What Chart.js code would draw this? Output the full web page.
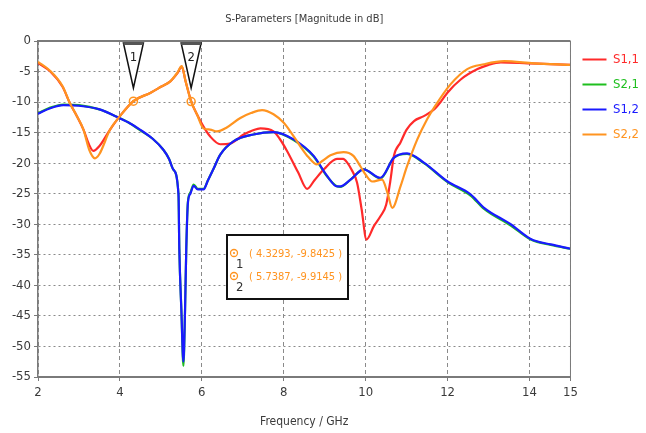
<!DOCTYPE html>
<html>
<head>
<meta charset="utf-8">
<script src="https://cdn.jsdelivr.net/npm/chart.js@4.4.0/dist/chart.umd.min.js"></script>
<style>
  html, body { margin: 0; padding: 0; background: #fff; }
  #wrap { width: 646px; height: 433px; }
</style>
</head>
<body>
<div id="wrap"><canvas id="chartSParams"></canvas></div>
<script>
// S-parameter curves (frequency in GHz, magnitude in dB)
const s11Freq = [2.0, 2.3, 2.6, 2.78, 2.95, 3.11, 3.25, 3.35, 3.5, 3.76, 4.0, 4.33, 4.74, 5.0, 5.23, 5.4, 5.51, 5.6, 5.74, 5.88, 6.03, 6.2, 6.45, 6.69, 7.02, 7.25, 7.43, 7.75, 7.9, 8.08, 8.35, 8.57, 8.75, 8.98, 9.3, 9.45, 9.55, 9.65, 9.79, 9.9, 10.02, 10.2, 10.36, 10.5, 10.6, 10.69, 10.85, 11.0, 11.18, 11.42, 11.67, 11.85, 11.99, 12.32, 12.73, 13.0, 13.3, 13.95, 14.5, 15.0];
const s11Mag  = [-3.6, -5.0, -7.5, -10.2, -12.3, -14.5, -17.0, -18.0, -17.2, -14.5, -12.3, -9.84, -8.5, -7.5, -6.6, -5.3, -4.2, -6.5, -9.9, -12.0, -13.9, -15.6, -16.9, -16.8, -15.3, -14.6, -14.3, -14.8, -16.0, -18.0, -21.5, -24.2, -22.8, -21.0, -19.3, -19.3, -19.9, -21.0, -23.2, -27.5, -32.5, -30.3, -28.7, -26.8, -23.0, -18.8, -16.6, -14.5, -13.1, -12.3, -11.2, -9.8, -8.5, -6.3, -4.6, -3.9, -3.5, -3.65, -3.8, -3.9];

const s21Freq = [2.0, 2.3, 2.62, 3.0, 3.5, 3.92, 4.2, 4.49, 4.8, 5.06, 5.2, 5.3, 5.43, 5.45, 5.5, 5.55, 5.59, 5.62, 5.66, 5.72, 5.8, 5.9, 6.04, 6.15, 6.28, 6.45, 6.78, 7.26, 7.75, 8.24, 8.73, 9.06, 9.3, 9.38, 9.63, 9.95, 10.36, 10.69, 11.01, 11.42, 12.0, 12.56, 12.89, 13.54, 14.03, 14.52, 15.0];
const s21Mag  = [-11.8, -10.9, -10.4, -10.5, -11.2, -12.4, -13.3, -14.6, -16.0, -17.8, -19.3, -21.0, -25.1, -34.0, -44.0, -53.2, -44.0, -34.0, -26.3, -24.8, -23.5, -24.2, -24.2, -22.8, -21.0, -18.6, -16.4, -15.3, -14.9, -16.2, -18.9, -22.2, -23.8, -23.9, -22.7, -21.0, -22.5, -19.1, -18.5, -20.0, -23.1, -25.3, -27.5, -30.2, -32.5, -33.4, -34.0];

const s12Freq = [2.0, 2.3, 2.62, 3.0, 3.5, 3.92, 4.2, 4.49, 4.8, 5.06, 5.2, 5.3, 5.43, 5.45, 5.5, 5.55, 5.59, 5.62, 5.66, 5.72, 5.8, 5.9, 6.04, 6.15, 6.28, 6.45, 6.78, 7.26, 7.75, 8.24, 8.73, 9.06, 9.3, 9.38, 9.63, 9.95, 10.36, 10.69, 11.01, 11.42, 12.0, 12.56, 12.89, 13.54, 14.03, 14.52, 15.0];
const s12Mag  = [-11.9, -11.0, -10.5, -10.6, -11.2, -12.4, -13.3, -14.5, -16.0, -17.8, -19.3, -21.0, -25.1, -34.0, -44.0, -52.5, -44.0, -34.0, -26.5, -25.0, -23.7, -24.3, -24.3, -22.8, -21.0, -18.6, -16.4, -15.3, -14.9, -16.1, -18.8, -22.1, -23.8, -23.8, -22.7, -21.0, -22.4, -19.1, -18.4, -19.9, -23.0, -25.1, -27.3, -30.0, -32.4, -33.3, -34.0];

const s22Freq = [2.0, 2.3, 2.6, 2.78, 2.95, 3.11, 3.25, 3.39, 3.5, 3.76, 4.0, 4.33, 4.74, 5.0, 5.23, 5.4, 5.51, 5.6, 5.74, 5.88, 6.04, 6.2, 6.37, 6.6, 6.94, 7.2, 7.47, 7.75, 8.0, 8.2, 8.4, 8.6, 8.81, 8.95, 9.14, 9.46, 9.7, 9.87, 10.0, 10.16, 10.4, 10.53, 10.65, 10.85, 11.01, 11.26, 11.5, 11.67, 12.07, 12.48, 12.89, 13.38, 14.11, 15.0];
const s22Mag  = [-3.4, -4.9, -7.4, -10.2, -12.3, -14.5, -17.8, -19.2, -18.5, -14.5, -12.3, -9.84, -8.5, -7.5, -6.6, -5.2, -4.1, -6.5, -9.91, -12.0, -14.3, -14.5, -14.8, -14.2, -12.6, -11.8, -11.3, -12.0, -13.4, -15.2, -17.2, -19.0, -20.2, -19.6, -18.7, -18.2, -18.8, -20.5, -21.9, -23.0, -22.7, -24.8, -27.3, -23.8, -20.5, -16.1, -12.8, -10.9, -7.1, -4.6, -3.8, -3.3, -3.65, -3.9];

const seriesLabels = ['S1,1', 'S2,1', 'S1,2', 'S2,2'];

// Markers on S2,2
const markerIds  = ['1', '2'];
const markerFreq = [4.3293, 5.7387];
const markerMag  = [-9.8425, -9.9145];

const xTicks = [2, 4, 6, 8, 10, 12, 14, 15];
const yTicks = [0, -5, -10, -15, -20, -25, -30, -35, -40, -45, -50, -55];

const COLORS = {
    red: '#ff2a2a',
    green: '#1fbf1f',
    blue: '#1a1aff',
    orange: '#ff9420',
    axis: '#7a7a7a',
    grid: '#8a8a8a',
    text: '#3a3a3a',
};

const FONT = "'Liberation Sans Narrow', 'DejaVu Sans Condensed', 'Liberation Sans', sans-serif";

Chart.defaults.font.family = FONT;
Chart.defaults.font.size = 12;
Chart.defaults.color = COLORS.text;

const toPoints = (fx, my) => fx.map((f, i) => ({ x: f, y: my[i] }));

function lineSet(label, fx, my, color, order) {
    return {
        label,
        data: toPoints(fx, my),
        borderColor: color,
        backgroundColor: color,
        borderWidth: 2.2,
        pointRadius: 0,
        cubicInterpolationMode: 'monotone',
        order,
    };
}

// Title, plot frame, marker flags and marker read-out box
const decorations = {
    id: 'decorations',
    afterDatasetsDraw(chart) {
        const { ctx, chartArea: a, scales } = chart;
        const xs = scales.x, ys = scales.y;
        ctx.save();

        // frame
        ctx.strokeStyle = COLORS.axis;
        ctx.lineWidth = 2;
        ctx.beginPath();
        ctx.moveTo(a.left, a.top); ctx.lineTo(a.right, a.top);
        ctx.stroke();
        ctx.lineWidth = 1;
        ctx.beginPath();
        ctx.moveTo(a.right, a.top); ctx.lineTo(a.right, a.bottom);
        ctx.stroke();

        // marker circles + flags
        markerFreq.forEach((f, i) => {
            const px = xs.getPixelForValue(f);
            const py = ys.getPixelForValue(markerMag[i]);
            ctx.strokeStyle = COLORS.orange;
            ctx.fillStyle = COLORS.orange;
            ctx.lineWidth = 1.5;
            ctx.beginPath(); ctx.arc(px, py, 4, 0, Math.PI * 2); ctx.stroke();
            ctx.beginPath(); ctx.arc(px, py, 1.3, 0, Math.PI * 2); ctx.fill();

            const top = a.top + 2;
            ctx.fillStyle = '#fff';
            ctx.strokeStyle = '#111';
            ctx.lineWidth = 1.5;
            ctx.beginPath();
            ctx.moveTo(px - 10, top);
            ctx.lineTo(px + 10, top);
            ctx.lineTo(px, top + 45);
            ctx.closePath();
            ctx.fill(); ctx.stroke();
            ctx.fillStyle = '#555';
            ctx.fillRect(px - 10, top - 1, 20, 3);
            ctx.fillStyle = '#222';
            ctx.font = `13px ${FONT}`;
            ctx.textAlign = 'center';
            ctx.textBaseline = 'middle';
            ctx.fillText(markerIds[i], px, top + 15);
        });

        // read-out box
        const bx = a.left + 189, by = a.top + 194, bw = 121, bh = 64;
        ctx.fillStyle = '#fff';
        ctx.fillRect(bx, by, bw, bh);
        ctx.strokeStyle = '#111';
        ctx.lineWidth = 2;
        ctx.strokeRect(bx, by, bw, bh);
        markerFreq.forEach((f, i) => {
            const rowY = by + 19 + i * 23;
            ctx.strokeStyle = COLORS.orange;
            ctx.fillStyle = COLORS.orange;
            ctx.lineWidth = 1.3;
            ctx.beginPath(); ctx.arc(bx + 7, rowY - 1, 3.5, 0, Math.PI * 2); ctx.stroke();
            ctx.beginPath(); ctx.arc(bx + 7, rowY - 1, 1.1, 0, Math.PI * 2); ctx.fill();
            ctx.fillStyle = '#333';
            ctx.font = `13px ${FONT}`;
            ctx.textAlign = 'left';
            ctx.textBaseline = 'middle';
            ctx.fillText(markerIds[i], bx + 9, rowY + 11);
            ctx.fillStyle = COLORS.orange;
            ctx.font = `11px ${FONT}`;
            ctx.fillText(`( ${f.toFixed(4)}, ${markerMag[i].toFixed(4)} )`, bx + 22, rowY);
        });

        // title centred on the plot
        ctx.fillStyle = COLORS.text;
        ctx.font = `11px ${FONT}`;
        ctx.textAlign = 'center';
        ctx.textBaseline = 'middle';
        ctx.fillText('S-Parameters [Magnitude in dB]', (a.left + a.right) / 2, 19);
        ctx.restore();
    }
};

const charts = {};

charts.sparams = new Chart(document.getElementById('chartSParams'), {
    type: 'line',
    data: {
        datasets: [
            lineSet(seriesLabels[0], s11Freq, s11Mag, COLORS.red, 2),
            lineSet(seriesLabels[1], s21Freq, s21Mag, COLORS.green, 3),
            lineSet(seriesLabels[2], s12Freq, s12Mag, COLORS.blue, 1),
            lineSet(seriesLabels[3], s22Freq, s22Mag, COLORS.orange, 0),
        ]
    },
    options: {
        responsive: true,
        maintainAspectRatio: false,
        animation: false,
        layout: { padding: { top: 41, right: -3, left: 0, bottom: 0 } },
        plugins: {
            tooltip: { enabled: false },
            legend: {
                position: 'right',
                align: 'start',
                labels: {
                    boxWidth: 24,
                    boxHeight: 2,
                    padding: 12,
                    font: { size: 13 },
                    sort: (a, b) => a.datasetIndex - b.datasetIndex,
                    generateLabels(chart) {
                        return chart.data.datasets.map((ds, i) => ({
                            text: ds.label,
                            fillStyle: ds.borderColor,
                            strokeStyle: ds.borderColor,
                            fontColor: ds.borderColor,
                            lineWidth: 0,
                            datasetIndex: i,
                        }));
                    }
                }
            }
        },
        scales: {
            x: {
                type: 'linear',
                min: 2,
                max: 15,
                afterFit: s => { s.height = 56; },
                afterBuildTicks: s => { s.ticks = xTicks.map(v => ({ value: v })); },
                grid: { color: COLORS.grid, lineWidth: 1, tickLength: 4, tickColor: COLORS.axis },
                border: { display: true, color: COLORS.axis, width: 2, dash: [4, 3] },
                ticks: { padding: 4, color: COLORS.text, font: { size: 13 } },
                title: { display: true, text: 'Frequency / GHz', color: COLORS.text, font: { size: 12 }, padding: { top: 4 } },
            },
            y: {
                type: 'linear',
                min: -55,
                max: 0,
                afterFit: s => { s.width = 38; },
                afterBuildTicks: s => { s.ticks = yTicks.map(v => ({ value: v })); },
                grid: { color: COLORS.grid, lineWidth: 1, tickLength: 4, tickColor: COLORS.axis },
                border: { display: true, color: COLORS.axis, width: 1.5, dash: [2, 3] },
                ticks: { padding: 3, color: COLORS.text, font: { size: 13 } },
            }
        }
    },
    plugins: [decorations]
});
</script>
</body>
</html>
